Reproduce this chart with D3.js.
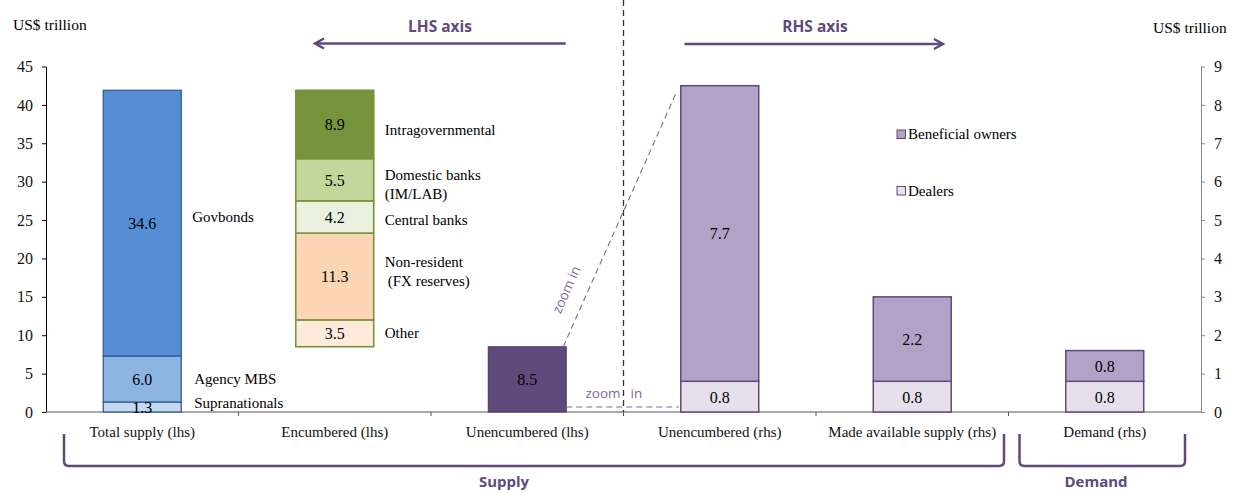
<!DOCTYPE html>
<html>
<head>
<meta charset="utf-8">
<script src="https://cdn.jsdelivr.net/npm/d3@7"></script>
<style>
  html, body { margin: 0; padding: 0; background: #fff; }
  svg { display: block; }
  .serif { font-family: "Liberation Serif", "Times New Roman", serif; }
  .sans { font-family: "Open Sans", "Liberation Sans", sans-serif; }
</style>
</head>
<body>
<svg id="chart" width="1235" height="493"></svg>
<script>
// ---------------- DATA ----------------
const categories = ["Total supply (lhs)", "Encumbered (lhs)", "Unencumbered (lhs)", "Unencumbered (rhs)", "Made available supply (rhs)", "Demand (rhs)"];

const supplyNames = ["Supranationals", "Agency MBS", "Govbonds"];
const supplyValues = [1.3, 6.0, 34.6];

const encumberedNames = [["Other"], ["Non-resident", " (FX reserves)"], ["Central banks"], ["Domestic banks", "(IM/LAB)"], ["Intragovernmental"]];
const encumberedValues = [3.5, 11.3, 4.2, 5.5, 8.9];

const unencumberedLhs = 8.5;

const rhsCategories = ["Unencumbered (rhs)", "Made available supply (rhs)", "Demand (rhs)"];
const dealers = [0.8, 0.8, 0.8];
const beneficialOwners = [7.7, 2.2, 0.8];

const leftTicks = [0, 5, 10, 15, 20, 25, 30, 35, 40, 45];
const rightTicks = [0, 1, 2, 3, 4, 5, 6, 7, 8, 9];

const legendNames = ["Beneficial owners", "Dealers"];
const groupNames = ["Supply", "Demand"];

// ---------------- STYLE ----------------
const supplyColors = ["#C6D9F1", "#8EB4E3", "#558ED5"];
const supplyStroke = "#2F5F96";
const encColors = ["#FDEADA", "#FCD5B5", "#EBF1DE", "#C3D69B", "#77933C"];
const encStroke = "#77933C";
const purpleDark = "#604A7B";
const benColor = "#B3A2C7";
const dealColor = "#E6E0EC";
const zoomColor = "#7E68A0";

const svg = d3.select("#chart");
const pL = 46, pR = 1201, pT = 66.5, pB = 412;

const x = d3.scaleBand().domain(categories).range([pL, pR]).paddingInner(0).paddingOuter(0);
const yL = d3.scaleLinear().domain([0, 45]).range([pB, pT]);
const yR = d3.scaleLinear().domain([0, 9]).range([pB, pT]);
const bw = x.bandwidth() * 0.405;
const bx = c => x(c) + (x.bandwidth() - bw) / 2;

// ---------------- AXES ----------------
const gL = svg.append("g").attr("transform", `translate(${pL},0)`)
  .call(d3.axisLeft(yL).tickValues(leftTicks).tickSize(4).tickSizeOuter(0).tickPadding(9));
gL.selectAll("text").attr("class", "serif").style("font-size", "16px").attr("fill", "#111");
gL.select(".domain").attr("stroke", "#000");
gL.selectAll(".tick line").attr("stroke", "#000");

const gR = svg.append("g").attr("transform", `translate(${pR},0)`)
  .call(d3.axisRight(yR).tickValues(rightTicks).tickSize(4).tickSizeOuter(0).tickPadding(9));
gR.selectAll("text").attr("class", "serif").style("font-size", "16px").attr("fill", "#111");
gR.select(".domain").attr("stroke", "#888");
gR.selectAll(".tick line").attr("stroke", "#888");

// x axis
const gX = svg.append("g").attr("transform", `translate(0,${pB})`);
gX.append("line").attr("x1", pL).attr("x2", pR).attr("stroke", "#555").attr("stroke-width", 1.2);
gX.selectAll("line.tk").data(categories.slice(1)).enter().append("line")
  .attr("class", "tk").attr("x1", d => x(d)).attr("x2", d => x(d)).attr("y1", 0).attr("y2", 4).attr("stroke", "#555");
gX.selectAll("text").data(categories).enter().append("text")
  .attr("class", "serif").style("font-size", "15px").attr("fill", "#111")
  .attr("text-anchor", "middle").attr("x", d => x(d) + x.bandwidth() / 2).attr("y", 25)
  .text(d => d);

// axis titles
svg.append("text").attr("class", "serif").style("font-size", "15.5px").attr("x", 13).attr("y", 30).text("US$ trillion");
svg.append("text").attr("class", "serif").style("font-size", "15.5px").attr("x", 1153).attr("y", 33).text("US$ trillion");

// vertical dashed separator
svg.append("line").attr("x1", x(categories[3])).attr("x2", x(categories[3]))
  .attr("y1", 0).attr("y2", pB).attr("stroke", "#333").attr("stroke-width", 1.3).attr("stroke-dasharray", "6,4");

// ---------------- TOTAL SUPPLY ----------------
const stackS = []; { let c = 0; supplyValues.forEach((v, i) => { stackS.push({ y0: c, y1: c + v, v, name: supplyNames[i], color: supplyColors[i] }); c += v; }); }
const gS = svg.append("g");
gS.selectAll("rect").data(stackS).enter().append("rect")
  .attr("x", bx(categories[0])).attr("width", bw)
  .attr("y", d => yL(d.y1)).attr("height", d => yL(d.y0) - yL(d.y1))
  .attr("fill", d => d.color).attr("stroke", supplyStroke).attr("stroke-width", 1.3);
gS.selectAll("text.v").data(stackS).enter().append("text")
  .attr("class", "serif v").style("font-size", "16px").attr("text-anchor", "middle")
  .attr("x", bx(categories[0]) + bw / 2).attr("y", d => yL((d.y0 + d.y1) / 2) + 6)
  .text(d => d.v.toFixed(1));
const sOffPx = [-4, 0, -6];
gS.selectAll("text.n").data(stackS).enter().append("text")
  .attr("class", "serif n").style("font-size", "15px")
  .attr("x", (d, i) => bx(categories[0]) + bw + (i === 2 ? 11 : 13))
  .attr("y", (d, i) => yL((d.y0 + d.y1) / 2) + sOffPx[i] + 5)
  .text(d => d.name);

// ---------------- ENCUMBERED (waterfall) ----------------
const encTotal = d3.sum(encumberedValues);
const encBase = d3.sum(supplyValues) - encTotal;
const stackE = []; { let c = encBase; encumberedValues.forEach((v, i) => { stackE.push({ y0: c, y1: c + v, v, name: encumberedNames[i], color: encColors[i] }); c += v; }); }
const gE = svg.append("g");
gE.selectAll("rect").data(stackE).enter().append("rect")
  .attr("x", bx(categories[1])).attr("width", bw)
  .attr("y", d => yL(d.y1)).attr("height", d => yL(d.y0) - yL(d.y1))
  .attr("fill", d => d.color).attr("stroke", encStroke).attr("stroke-width", 1.6);
gE.selectAll("text.v").data(stackE).enter().append("text")
  .attr("class", "serif v").style("font-size", "16px").attr("text-anchor", "middle")
  .attr("x", bx(categories[1]) + bw / 2).attr("y", d => yL((d.y0 + d.y1) / 2) + 6)
  .text(d => d.v.toFixed(1));
const eOffPx = [0, -5, 3, 4.8, 5.5];
gE.selectAll("text.n").data(stackE).enter().append("text")
  .attr("class", "serif n").style("font-size", "15px")
  .attr("x", bx(categories[1]) + bw + 11)
  .attr("y", (d, i) => yL((d.y0 + d.y1) / 2) + eOffPx[i] + 5 - (d.name.length - 1) * 9.5)
  .each(function (d) {
    const t = d3.select(this);
    d.name.forEach((ln, j) => t.append("tspan").attr("x", bx(categories[1]) + bw + 11 + (ln.startsWith(" ") ? 3 : 0)).attr("dy", j === 0 ? 0 : 19).text(ln.trim()));
  });

// ---------------- UNENCUMBERED LHS ----------------
svg.append("rect").attr("x", bx(categories[2])).attr("width", bw)
  .attr("y", yL(unencumberedLhs)).attr("height", yL(0) - yL(unencumberedLhs))
  .attr("fill", purpleDark).attr("stroke", "#4A3863").attr("stroke-width", 1);
svg.append("text").attr("class", "serif").style("font-size", "16px").attr("text-anchor", "middle")
  .attr("x", bx(categories[2]) + bw / 2).attr("y", yL(unencumberedLhs / 2) + 6).text(unencumberedLhs.toFixed(1));

// ---------------- RHS stacks ----------------
const rhsData = rhsCategories.map((c, i) => ({ c, d: dealers[i], b: beneficialOwners[i] }));
const gRh = svg.append("g");
rhsData.forEach(r => {
  gRh.append("rect").attr("x", bx(r.c)).attr("width", bw)
    .attr("y", yR(r.d)).attr("height", yR(0) - yR(r.d))
    .attr("fill", dealColor).attr("stroke", purpleDark).attr("stroke-width", 1.5);
  gRh.append("rect").attr("x", bx(r.c)).attr("width", bw)
    .attr("y", yR(r.d + r.b)).attr("height", yR(r.d) - yR(r.d + r.b))
    .attr("fill", benColor).attr("stroke", purpleDark).attr("stroke-width", 1.5);
  gRh.append("text").attr("class", "serif").style("font-size", "16px").attr("text-anchor", "middle")
    .attr("x", bx(r.c) + bw / 2).attr("y", yR(r.d / 2) + 6).text(r.d.toFixed(1));
  gRh.append("text").attr("class", "serif").style("font-size", "16px").attr("text-anchor", "middle")
    .attr("x", bx(r.c) + bw / 2).attr("y", yR(r.d + r.b / 2) + 6).text(r.b.toFixed(1));
});

// ---------------- LEGEND ----------------
const legColors = [benColor, dealColor];
const lg = svg.append("g");
legendNames.forEach((n, i) => {
  const ly = 134 + i * 56.5;
  lg.append("rect").attr("x", 897).attr("y", ly - 4).attr("width", 8.5).attr("height", 8.5)
    .attr("fill", legColors[i]).attr("stroke", purpleDark).attr("stroke-width", 1);
  lg.append("text").attr("class", "serif").style("font-size", "15px").attr("x", 908).attr("y", ly + 5).text(n);
});

// ---------------- ZOOM-IN GUIDES ----------------
const zx1 = bx(categories[2]) + bw - 3, zy1 = yL(unencumberedLhs);
const zx2 = bx(categories[3]) - 5, zy2 = yR(unencumberedLhs) + 8;
svg.append("line").attr("x1", zx1).attr("y1", zy1).attr("x2", zx2).attr("y2", zy2)
  .attr("stroke", zoomColor).attr("stroke-width", 1.1).attr("stroke-dasharray", "6,4");
svg.append("line").attr("x1", bx(categories[2]) + bw).attr("x2", bx(categories[3]) - 2)
  .attr("y1", pB - 5).attr("y2", pB - 5)
  .attr("stroke", zoomColor).attr("stroke-width", 1.1).attr("stroke-dasharray", "6,4");
const ang = Math.atan2(zy2 - zy1, zx2 - zx1) * 180 / Math.PI;
const tcx = 567, tcy = 290;
svg.append("text").attr("class", "sans").style("font-size", "13.5px").attr("fill", zoomColor)
  .attr("text-anchor", "middle").attr("transform", `translate(${tcx},${tcy}) rotate(${ang})`).attr("dy", 4).text("zoom in");
svg.append("text").attr("class", "sans").style("font-size", "13.5px").attr("fill", zoomColor)
  .attr("x", x(categories[3]) - 38).attr("y", pB - 14).text("zoom");
svg.append("text").attr("class", "sans").style("font-size", "13.5px").attr("fill", zoomColor)
  .attr("x", x(categories[3]) + 7).attr("y", pB - 14).text("in");

// ---------------- AXIS ARROWS ----------------
function arrow(xa, xb, y, dir) {
  svg.append("line").attr("x1", xa).attr("x2", xb).attr("y1", y).attr("y2", y).attr("stroke", purpleDark).attr("stroke-width", 2.5);
  const tip = dir < 0 ? xa : xb;
  svg.append("path").attr("d", `M${tip - dir * 9},${y - 5} L${tip},${y} L${tip - dir * 9},${y + 5}`)
    .attr("fill", "none").attr("stroke", purpleDark).attr("stroke-width", 2.5);
}
arrow(315, x(categories[2]) + x.bandwidth() * 0.7, 43.5, -1);
arrow(x(categories[3]) + 61, 943, 44, 1);
svg.append("text").attr("class", "sans").style("font-size", "15.5px").style("font-weight", "bold").attr("fill", purpleDark)
  .attr("text-anchor", "middle").attr("x", 440).attr("y", 32).text("LHS axis");
svg.append("text").attr("class", "sans").style("font-size", "15.5px").style("font-weight", "bold").attr("fill", purpleDark)
  .attr("text-anchor", "middle").attr("x", 815).attr("y", 32).text("RHS axis");

// ---------------- GROUP BRACKETS ----------------
function bracket(xa, xb, ya, yb, r) {
  const p = d3.path();
  p.moveTo(xa, ya);
  p.lineTo(xa, yb - r);
  p.quadraticCurveTo(xa, yb, xa + r, yb);
  p.lineTo(xb - r, yb);
  p.quadraticCurveTo(xb, yb, xb, yb - r);
  p.lineTo(xb, ya);
  svg.append("path").attr("d", p.toString()).attr("fill", "none").attr("stroke", purpleDark).attr("stroke-width", 2.5);
}
bracket(pL + 18, x(categories[5]) - 4.5, 434, 466, 5);
bracket(x(categories[5]) + 11, pR - 16, 434, 466, 5);
svg.append("text").attr("class", "sans").style("font-size", "15px").style("font-weight", "bold").attr("fill", purpleDark)
  .attr("text-anchor", "middle").attr("x", 504).attr("y", 487).text(groupNames[0]);
svg.append("text").attr("class", "sans").style("font-size", "15px").style("font-weight", "bold").attr("fill", purpleDark)
  .attr("text-anchor", "middle").attr("x", 1096).attr("y", 487).text(groupNames[1]);
</script>
</body>
</html>
